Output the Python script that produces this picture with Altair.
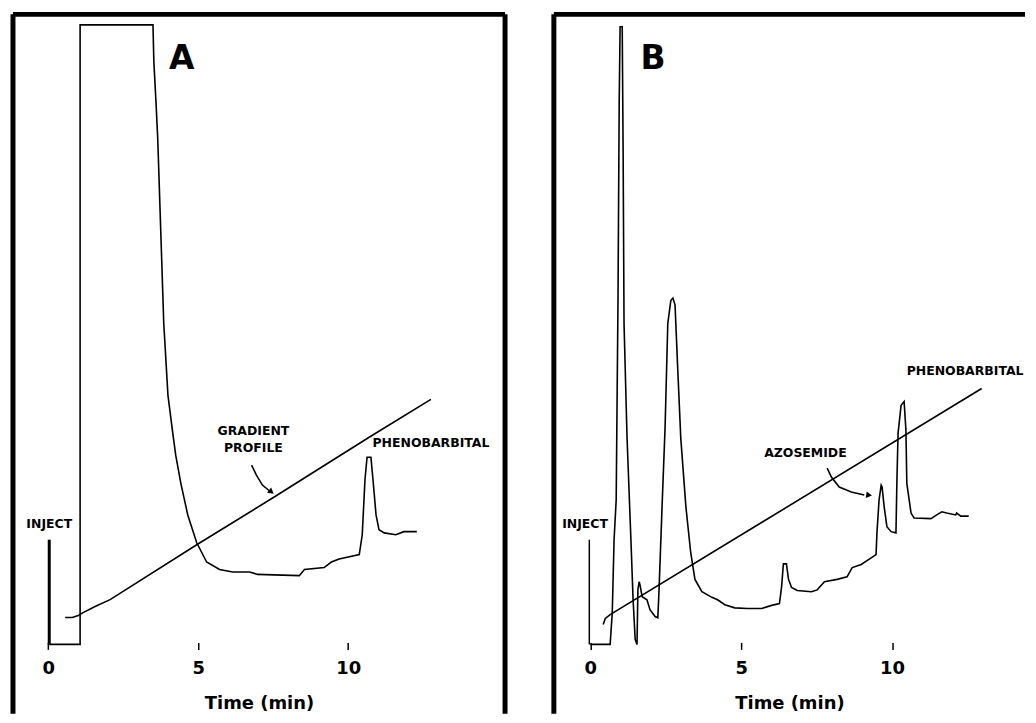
import altair as alt
import pandas as pd

# ---------------- Panel A (values: time in min, detector response, arbitrary units) ----------------
a_time = [0.03, 1.06, 1.06, 3.49, 3.52, 3.59, 3.65, 3.75, 3.85, 3.99, 4.15, 4.25, 4.42, 4.65, 4.95,
          5.28, 5.71, 6.15, 6.71, 6.98, 8.37, 8.54, 9.20, 9.44, 9.70, 10.37, 10.47, 10.56, 10.63,
          10.76, 10.83, 10.93, 11.03, 11.20, 11.59, 11.86, 12.29]
a_signal = [0.0, 0.0, 100.0, 100.0, 94.0, 87.6, 81.5, 66.7, 51.8, 40.2, 34.1, 30.5, 26.0, 20.9, 16.4,
            13.3, 12.1, 11.7, 11.7, 11.3, 11.1, 12.1, 12.4, 13.3, 13.8, 14.5, 17.7, 26.5, 30.2,
            30.2, 26.5, 20.9, 18.5, 18.0, 17.7, 18.2, 18.2]
a_grad_time = [0.56, 0.80, 1.00, 1.16, 1.56, 2.06, 4.95, 7.48, 10.70, 12.76]
a_grad_val = [4.34, 4.34, 4.66, 5.14, 6.11, 7.23, 16.08, 23.63, 33.44, 39.55]
a_arrow_time = [6.78, 6.94, 7.14, 7.38]
a_arrow_val = [28.94, 27.33, 25.72, 24.76]
a_head = (7.44, 24.6, 38)
a_inject = (0.03, 0.0, 16.9)
a_labels = ["GRADIENT", "PROFILE", "PHENOBARBITAL", "INJECT"]
a_label_t = [6.84, 6.84, 12.76, 0.03]
a_label_v = [34.4, 31.7, 32.5, 19.5]
a_letter = ("A", 4.45, 94.4)
a_xdomain = [-1.179, 15.233]

# ---------------- Panel B ----------------
b_time = [0.0, 0.66, 0.73, 0.79, 0.86, 0.92, 0.96, 0.99, 1.06, 1.09, 1.12, 1.22, 1.35, 1.42, 1.49,
          1.55, 1.58, 1.62, 1.65, 1.72, 1.88, 1.98, 2.15, 2.24, 2.28, 2.38, 2.48, 2.57, 2.67, 2.74,
          2.81, 2.90, 3.00, 3.17, 3.33, 3.47, 3.70, 4.03, 4.22, 4.46, 4.79, 5.21, 5.68, 6.01, 6.27,
          6.34, 6.40, 6.50, 6.57, 6.67, 6.86, 7.33, 7.52, 7.76, 8.18, 8.51, 8.68, 8.98, 9.47, 9.50,
          9.57, 9.64, 9.67, 9.74, 9.83, 9.97, 10.13, 10.16, 10.20, 10.30, 10.40, 10.46, 10.49,
          10.63, 10.73, 11.29, 11.48, 11.65, 11.81, 12.11, 12.14, 12.28, 12.54]
b_signal = [0.0, 0.0, 5.1, 16.9, 23.3, 55.5, 87.6, 99.7, 99.7, 79.6, 51.8, 33.3, 16.7, 7.2, 0.8,
            0.0, 8.8, 10.1, 9.6, 7.7, 7.2, 5.6, 4.5, 4.3, 8.8, 22.2, 35.0, 51.8, 55.5, 55.9,
            54.8, 44.4, 33.3, 22.2, 14.8, 10.5, 8.5, 7.6, 7.2, 6.4, 5.9, 5.8, 5.8, 6.3, 6.6,
            9.3, 13.0, 13.0, 10.5, 9.2, 8.7, 8.5, 8.8, 10.1, 10.5, 10.9, 12.4, 12.9, 14.5, 18.0,
            23.3, 25.7, 25.4, 22.2, 19.0, 18.2, 18.0, 26.0, 34.1, 38.6, 39.2, 34.6, 26.0,
            21.2, 20.4, 20.3, 20.9, 21.4, 21.2, 20.9, 21.2, 20.7, 20.7]
b_grad_time = [0.43, 0.50, 0.66, 12.97]
b_grad_val = [3.2, 4.2, 4.8, 41.3]
b_arrow_time = [7.85, 7.99, 8.25, 8.65, 9.08]
b_arrow_val = [28.46, 27.01, 25.40, 24.60, 24.12]
b_head = (9.24, 24.1, 8)
b_inject = (-0.03, 0.0, 16.9)
b_labels = ["PHENOBARBITAL", "AZOSEMIDE", "INJECT"]
b_label_t = [12.42, 7.13, -0.17]
b_label_v = [44.1, 30.9, 19.5]
b_letter = ("B", 2.08, 94.4)
b_xdomain = [-1.205, 14.406]

y_domain = [-11.17, 101.69]
tick_values = [0, 5, 10]

FONT = "DejaVu Sans"
PANEL_H = 702
FRAME_W = 5


def panel(time, signal, gt, gv, at, av, head, inject, labels, lt, lv, letter, xdom, width,
          inject_w, right_border):
    xs = alt.Scale(domain=xdom, nice=False, zero=False)
    ys = alt.Scale(domain=y_domain, nice=False, zero=False)
    xaxis = alt.Axis(values=tick_values, format="d", domain=False, grid=False,
                     ticks=True, tickSize=7, tickWidth=1.5, tickColor="black",
                     offset=-71.5, labelFont=FONT, labelFontWeight="bold", labelFontSize=18,
                     labelColor="black", labelBaseline="middle", labelPadding=19,
                     labelFlush=False, labelOverlap=False,
                     title="Time (min)", titleFont=FONT, titleFontWeight="bold",
                     titleFontSize=18, titleColor="black", titleBaseline="middle", titleY=61)
    X = alt.X("t:Q", scale=xs, axis=xaxis)
    Y = alt.Y("v:Q", scale=ys, axis=None)

    trace_df = pd.DataFrame({"t": time, "v": signal, "i": list(range(len(time)))})
    trace = alt.Chart(trace_df).mark_line(color="black", strokeWidth=1.6).encode(
        x=X, y=Y, order="i:Q")

    grad_df = pd.DataFrame({"t": gt, "v": gv, "i": list(range(len(gt)))})
    grad = alt.Chart(grad_df).mark_line(color="black", strokeWidth=1.6).encode(
        x=X, y=Y, order="i:Q")

    arrow_df = pd.DataFrame({"t": at, "v": av, "i": list(range(len(at)))})
    arrow = alt.Chart(arrow_df).mark_line(color="black", strokeWidth=1.6).encode(
        x=X, y=Y, order="i:Q")

    head_df = pd.DataFrame({"t": [head[0]], "v": [head[1]]})
    arrowhead = alt.Chart(head_df).mark_point(shape="triangle-right", filled=True, size=45,
                                              angle=head[2], color="black", opacity=1).encode(x=X, y=Y)

    inj_df = pd.DataFrame({"t": [inject[0]], "v": [inject[1]], "v2": [inject[2]]})
    inj = alt.Chart(inj_df).mark_rule(color="black", strokeWidth=inject_w).encode(
        x=X, y=Y, y2="v2:Q")

    lab_df = pd.DataFrame({"t": lt, "v": lv, "txt": labels})
    labs = alt.Chart(lab_df).mark_text(font=FONT, fontWeight="bold", fontSize=12.5,
                                       color="black", align="center", baseline="middle").encode(
        x=X, y=Y, text="txt:N")

    let_df = pd.DataFrame({"t": [letter[1]], "v": [letter[2]], "txt": [letter[0]]})
    let = alt.Chart(let_df).mark_text(font=FONT, fontWeight="bold", fontSize=33,
                                      color="black", align="center", baseline="middle").encode(
        x=X, y=Y, text="txt:N")

    one = pd.DataFrame({"k": [0]})
    left_b = alt.Chart(one).mark_rule(color="black", strokeWidth=FRAME_W).encode(
        x=alt.value(0), y=alt.value(0), y2=alt.value(PANEL_H))
    top_b = alt.Chart(one).mark_rule(color="black", strokeWidth=FRAME_W).encode(
        x=alt.value(0), x2=alt.value(width), y=alt.value(0))
    layers = [trace, grad, arrow, arrowhead, inj, labs, let, left_b, top_b]
    if right_border:
        right_b = alt.Chart(one).mark_rule(color="black", strokeWidth=FRAME_W).encode(
            x=alt.value(width), y=alt.value(0), y2=alt.value(PANEL_H))
        layers.append(right_b)

    return alt.layer(*layers).properties(width=width, height=PANEL_H)


pa = panel(a_time, a_signal, a_grad_time, a_grad_val, a_arrow_time, a_arrow_val, a_head,
           a_inject, a_labels, a_label_t, a_label_v, a_letter, a_xdomain, 494, 3, True)
pb = panel(b_time, b_signal, b_grad_time, b_grad_val, b_arrow_time, b_arrow_val, b_head,
           b_inject, b_labels, b_label_t, b_label_v, b_letter, b_xdomain, 473, 1.5, False)

chart = alt.hconcat(pa, pb, spacing=43).properties(
    padding={"left": 2, "top": 2, "right": 0, "bottom": 0},
    background="white",
).configure_view(stroke=None)

chart.save("out.html", embed_options={"renderer": "svg", "actions": False})
